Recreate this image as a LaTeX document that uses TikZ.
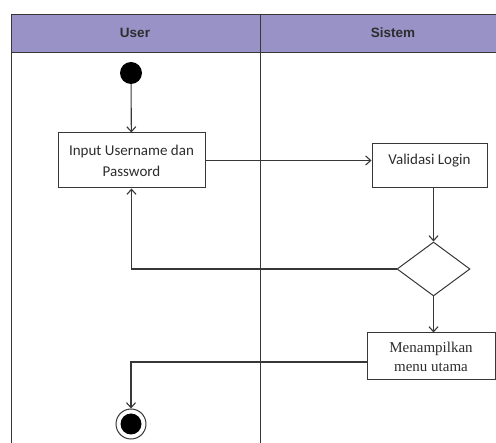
\documentclass[tikz,border=0pt]{standalone}
\usepackage{xcolor}
\usepackage{fontspec}
\setmainfont{Carlito}
\newfontfamily\headfont{Liberation Sans}
\newfontfamily\serfont{Liberation Serif}
\usepackage{tikz}
\usetikzlibrary{arrows, arrows.meta, shapes, positioning}
\definecolor{lanehead}{RGB}{152,146,198}
\definecolor{linegray}{RGB}{55,55,55}
\definecolor{textgray}{RGB}{45,45,45}

\begin{document}
\begin{tikzpicture}[x=1pt, y=-1pt, >={Straight Barb[length=5pt,width=9pt]}]

			\tikzstyle{actbox}=[draw=linegray, line width=1pt, align=center, inner sep=0pt, text=textgray]
			\tikzstyle{flow}=[draw=linegray, line width=1.1pt]
			\tikzstyle{lane}=[draw=linegray, line width=0.8pt]

			\useasboundingbox (0,0) rectangle (496,443);

			% swimlanes
			\fill [lanehead] (11,14) rectangle (496,52);
			\draw [lane] (496,14) -- (11,14) -- (11,443);
			\draw [lane] (11,52) -- (496,52);
			\draw [lane] (260,14) -- (260,443);
			\node (hUser) at (135,33) [text=textgray, font=\headfont\bfseries\fontsize{13.5}{15}\selectfont] {User};
			\node (hSistem) at (393,33) [text=textgray, font=\headfont\bfseries\fontsize{13.5}{15}\selectfont] {Sistem};

			% activities
			\node (start) at (131,73) [circle, fill=black, minimum size=22pt, inner sep=0pt] {};
			\node (inp) at (131.5,160.5) [actbox, minimum width=147pt, minimum height=55pt, font=\fontsize{15}{21}\selectfont]
				{Input Username dan\\ Password};
			\node (val) at (429.5,166) [actbox, minimum width=115pt, minimum height=44pt, text height=10pt, text depth=12pt, font=\fontsize{15}{18}\selectfont]
				{Validasi Login};
			\node (dec) at (433.5,269) [diamond, draw=linegray, line width=1pt, minimum width=73pt, minimum height=54pt, inner sep=0pt] {};
			\node (men) at (431,356.5) [actbox, minimum width=128pt, minimum height=47pt, font=\serfont\fontsize{15}{19}\selectfont]
				{Menampilkan\\ menu utama};
			\node (fin) at (131,424) [circle, draw=linegray, line width=1pt, minimum size=30pt, inner sep=0pt] {};
			\node (finc) at (131,424) [circle, fill=black, minimum size=21pt, inner sep=0pt] {};

			% transitions
			\draw [flow, ->] (start) -- (inp);
			\draw [flow, ->] (inp.east) -- (inp.east -| val.west);
			\draw [flow, ->] (dec.north |- val.south) -- (dec.north);
			\draw [flow, ->] (dec.west) -- (dec.west -| inp.south) -- (inp.south);
			\draw [flow, ->] (dec.south) -- (dec.south |- men.north);
			\draw [flow, ->] ([yshift=-5.5pt]men.west) -- ([yshift=-5.5pt]men.west -| fin.north) -- (fin.north);

\end{tikzpicture}
\end{document}
